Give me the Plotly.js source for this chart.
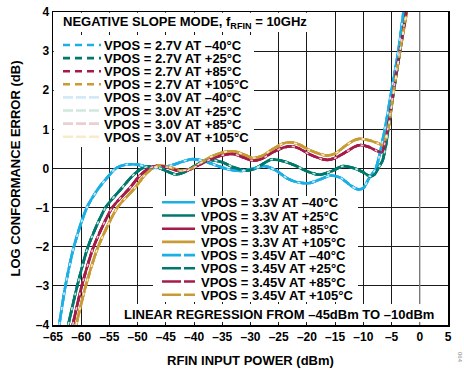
<!DOCTYPE html>
<html><head><meta charset="utf-8">
<script src="https://cdn.plot.ly/plotly-3.0.1.min.js"></script>
<style>html,body{margin:0;padding:0;background:#fff}#chart{width:464px;height:370px}</style>
</head><body><div id="chart"></div>
<script>
// ---- data ----
const voltages = ['2.7V', '3.0V', '3.3V', '3.45V'];
const temperatures = ['–40°C', '+25°C', '+85°C', '+105°C'];

const xTickVals = [-65, -60, -55, -50, -45, -40, -35, -30, -25, -20, -15, -10, -5, 0, 5];
const xTickText = ['–65', '–60', '–55', '–50', '–45', '–40', '–35', '–30', '–25', '–20', '–15', '–10', '–5', '0', '5'];
const yTickVals = [-4, -3, -2, -1, 0, 1, 2, 3, 4];
const yTickText = ['–4', '–3', '–2', '–1', '0', '1', '2', '3', '4'];

// -40°C
const rfinM40 = [-63.9, -62.8, -61.3, -59.0, -56.9, -55.2, -53.9, -52.0, -50.0, -48.0, -46.0, -44.0, -42.0, -40.3, -38.5, -36.5, -34.0, -31.5, -29.5, -27.5, -25.5, -23.5, -21.5, -19.5, -17.5, -15.8, -14.0, -12.3, -11.0, -10.0, -9.0, -7.8, -6.2, -5.0, -3.8, -2.9];
const errM40  = [-4, -3, -2, -1, -0.5, -0.2, 0, 0.1, 0.1, 0.03, 0.02, 0.08, 0.18, 0.24, 0.2, 0.1, -0.02, -0.06, 0.0, 0.06, -0.05, -0.25, -0.36, -0.37, -0.27, -0.18, -0.24, -0.43, -0.53, -0.5, -0.25, 0.0, 1.0, 2.0, 3.0, 4.0];
// +25°C
const rfinP25 = [-62.3, -60.7, -58.8, -55.7, -52.8, -51.0, -49.3, -48.0, -46.5, -45.0, -43.3, -41.5, -39.5, -37.3, -35.0, -33.0, -31.0, -29.5, -28.0, -26.3, -24.0, -22.0, -20.0, -17.8, -15.8, -13.6, -11.5, -10.0, -8.8, -8.0, -7.2, -6.6, -6.0, -5.6, -4.6, -3.5, -2.4];
const errP25  = [-4, -3, -2, -1, -0.5, -0.2, 0, 0.05, 0.03, -0.06, -0.15, -0.08, 0.1, 0.22, 0.16, 0.03, -0.05, -0.02, 0.1, 0.23, 0.18, 0.07, -0.07, -0.16, -0.08, 0.06, 0.0, -0.1, -0.2, -0.15, 0.05, 0.2, 0.6, 1.0, 2.0, 3.0, 4.0];
// +85°C
const rfinP85 = [-61.5, -59.9, -57.8, -54.5, -51.4, -49.6, -48.0, -46.5, -44.8, -42.8, -41.0, -39.0, -37.0, -35.0, -33.0, -31.2, -29.6, -28.0, -26.0, -24.0, -22.8, -21.5, -19.5, -17.5, -16.3, -15.0, -13.0, -11.5, -10.5, -9.0, -7.6, -6.7, -6.2, -5.7, -4.65, -3.55, -2.4];
const errP85  = [-4, -3, -2, -1, -0.5, -0.18, 0, 0.07, 0.03, -0.06, -0.04, 0.1, 0.24, 0.34, 0.37, 0.28, 0.2, 0.25, 0.42, 0.54, 0.57, 0.52, 0.36, 0.25, 0.22, 0.27, 0.43, 0.56, 0.6, 0.55, 0.45, 0.42, 0.65, 1.0, 2.0, 3.0, 4.0];
// +105°C
const rfinP105 = [-60.9, -59.2, -57.0, -53.6, -50.5, -48.8, -47.4, -46.0, -44.3, -42.5, -40.8, -39.0, -37.0, -35.0, -33.0, -31.2, -29.6, -28.0, -26.0, -24.2, -23.0, -21.5, -19.5, -17.5, -16.5, -15.0, -13.0, -11.5, -10.5, -9.0, -7.5, -6.5, -6.05, -5.6, -4.6, -3.5, -2.3];
const errP105  = [-4, -3, -2, -1, -0.5, -0.18, 0, 0.08, 0.03, -0.05, -0.02, 0.13, 0.3, 0.41, 0.44, 0.36, 0.27, 0.32, 0.5, 0.64, 0.67, 0.62, 0.47, 0.36, 0.33, 0.38, 0.6, 0.73, 0.76, 0.72, 0.65, 0.6, 0.78, 1.0, 2.0, 3.0, 4.0];

const rfinByTemp = [rfinM40, rfinP25, rfinP85, rfinP105];
const errByTemp = [errM40, errP25, errP85, errP105];

// ---- styles ----
const mainColors = ['#1BAFE5', '#00796D', '#A51C4B', '#C99B35'];
const paleColors = ['#D2EAF7', '#CFE7DD', '#EACED2', '#FAEACB'];
const FONT = 'Liberation Sans, Arial, Helvetica, sans-serif';

const L = 53, R = 448, T = 12, B = 325;
const px = v => (v - L) / (R - L);
const py = v => (B - v) / (B - T);

const styleFor = (vi, ti) => {
  if (vi === 0) return {color: mainColors[ti], width: 2.6, dash: '7px,5px'};
  if (vi === 1) return {color: paleColors[ti], width: 1.6, dash: '3px,12px'};
  if (vi === 2) return {color: mainColors[ti], width: 2.6, dash: 'solid'};
  return {color: mainColors[ti], width: 2.6, dash: '16px,3px'};
};

const drawOrder = [2, 3, 0, 1];
const traces = [];
drawOrder.forEach(vi => {
  temperatures.forEach((t, ti) => {
    const st = styleFor(vi, ti);
    traces.push({
      type: 'scatter', mode: 'lines',
      x: rfinByTemp[ti], y: errByTemp[ti],
      name: 'VPOS = ' + voltages[vi] + ' AT ' + t,
      line: {color: st.color, width: st.width, dash: st.dash, shape: 'spline', smoothing: 0.7},
      showlegend: false, hoverinfo: 'skip'
    });
  });
});

const shapes = [];
const annotations = [];
// grey 0 dBm line
shapes.push({type: 'line', xref: 'x', yref: 'paper', x0: 0, x1: 0, y0: 0, y1: 1,
  line: {color: '#8c8c8c', width: 1.3}, layer: 'above'});
// white boxes hiding the grid behind the key texts
const box = (x0, y0, x1, y1) => shapes.push({type: 'rect', xref: 'paper', yref: 'paper',
  x0: px(x0), x1: px(x1), y0: py(y1), y1: py(y0), fillcolor: '#ffffff', line: {width: 0}, layer: 'above'});
box(53.8, 12.8, 321, 32);
box(53.8, 35, 254, 147);
box(153, 196, 358, 302);
box(118, 304, 440, 322);

// legend 1 (2.7V, 3.0V)
const textFont = {family: FONT, size: 13, color: '#000', weight: 'bold'};
[0, 1].forEach((vi, g) => {
  temperatures.forEach((t, ti) => {
    const i = g * 4 + ti;
    const yy = 45 + 13.1 * i;
    const c = vi === 0 ? mainColors[ti] : paleColors[ti];
    shapes.push({type: 'line', xref: 'paper', yref: 'paper', x0: px(63), x1: px(101), y0: py(yy), y1: py(yy),
      line: {color: c, width: 2.6, dash: vi === 0 ? '7px,5px' : '10px,3px'}, layer: 'above'});
    annotations.push({xref: 'paper', yref: 'paper', x: px(103), y: py(yy), xanchor: 'left', yanchor: 'middle',
      text: 'VPOS = ' + voltages[vi] + ' AT ' + t, showarrow: false, font: textFont, borderpad: 0, height: 12});
  });
});
// legend 2 (3.3V, 3.45V)
[2, 3].forEach((vi, g) => {
  temperatures.forEach((t, ti) => {
    const i = g * 4 + ti;
    const yy = 202.3 + 13.2 * i;
    shapes.push({type: 'line', xref: 'paper', yref: 'paper', x0: px(162), x1: px(195), y0: py(yy), y1: py(yy),
      line: {color: mainColors[ti], width: 2.6, dash: vi === 2 ? 'solid' : '19px,3px'}, layer: 'above'});
    annotations.push({xref: 'paper', yref: 'paper', x: px(200), y: py(yy), xanchor: 'left', yanchor: 'middle',
      text: 'VPOS = ' + voltages[vi] + ' AT ' + t, showarrow: false, font: textFont, borderpad: 0, height: 12});
  });
});
annotations.push({xref: 'paper', yref: 'paper', x: px(61), y: py(22.5), xanchor: 'left', yanchor: 'middle',
  text: 'NEGATIVE SLOPE MODE, f<sub>RFIN</sub> = 10GHz', showarrow: false, font: textFont});
annotations.push({xref: 'paper', yref: 'paper', x: px(279), y: py(314.5), xanchor: 'center', yanchor: 'middle',
  text: 'LINEAR REGRESSION FROM –45dBm TO –10dBm', showarrow: false, font: textFont});
annotations.push({xref: 'paper', yref: 'paper', x: px(460), y: py(357), xanchor: 'center', yanchor: 'middle',
  text: '064', textangle: 90, showarrow: false, font: {family: FONT, size: 6, color: '#888'}});

const layout = {
  width: 464, height: 370,
  margin: {l: L, r: 464 - R, t: T, b: 370 - B, pad: 0},
  paper_bgcolor: '#fff', plot_bgcolor: '#fff',
  showlegend: false,
  xaxis: {
    range: [-65, 5], tickvals: xTickVals, ticktext: xTickText,
    showgrid: true, gridcolor: '#1a1a1a', gridwidth: 1, zeroline: false,
    showline: true, mirror: true, linecolor: '#000', linewidth: 1.5, ticks: '',
    tickfont: {family: FONT, size: 12, color: '#000', weight: 'bold'},
    title: {text: 'RFIN INPUT POWER (dBm)', standoff: 13, font: {family: FONT, size: 13, color: '#000', weight: 'bold'}}
  },
  yaxis: {
    range: [-4, 4], tickvals: yTickVals, ticktext: yTickText,
    showgrid: true, gridcolor: '#1a1a1a', gridwidth: 1, zeroline: false,
    showline: true, mirror: true, linecolor: '#000', linewidth: 1.5, ticks: '',
    tickfont: {family: FONT, size: 12, color: '#000', weight: 'bold'},
    title: {text: 'LOG CONFORMANCE ERROR (dB)', standoff: 12, font: {family: FONT, size: 13, color: '#000', weight: 'bold'}}
  },
  shapes: shapes,
  annotations: annotations
};

Plotly.newPlot('chart', traces, layout, {displayModeBar: false, staticPlot: true});
</script>
</body></html>
